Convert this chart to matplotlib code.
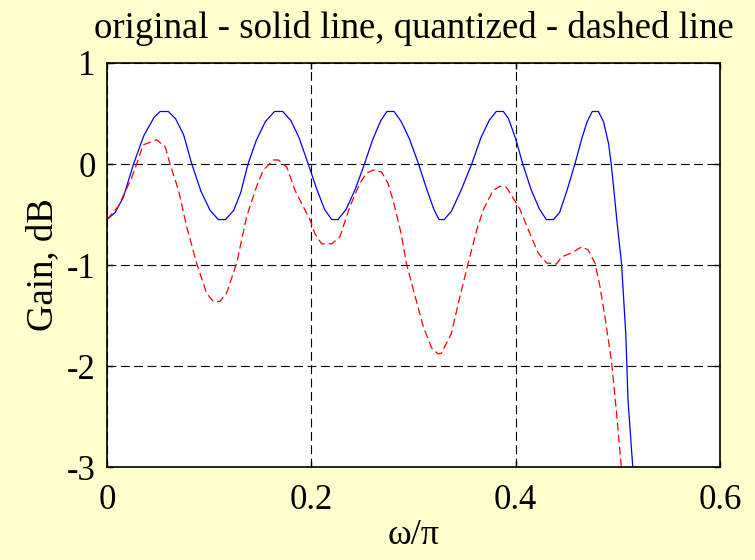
import matplotlib.pyplot as plt

# original filter response (solid, blue)
orig_w = [0.000, 0.008, 0.016, 0.026, 0.036, 0.046, 0.052, 0.060, 0.067, 0.075,
          0.083, 0.092, 0.101, 0.109, 0.116, 0.124, 0.131, 0.138, 0.146, 0.155,
          0.164, 0.172, 0.180, 0.188, 0.197, 0.205, 0.213, 0.220, 0.226, 0.234,
          0.243, 0.252, 0.260, 0.268, 0.274, 0.281, 0.288, 0.296, 0.305, 0.313,
          0.320, 0.325, 0.330, 0.337, 0.347, 0.357, 0.366, 0.374, 0.381, 0.388,
          0.393, 0.400, 0.407, 0.415, 0.423, 0.430, 0.437, 0.443, 0.450, 0.458,
          0.465, 0.470, 0.475, 0.481, 0.486, 0.491, 0.4935, 0.4955, 0.499, 0.5036,
          0.5078, 0.510, 0.515]
orig_db = [-0.55, -0.48, -0.33, 0.00, 0.28, 0.46, 0.52, 0.52, 0.45, 0.29,
           0.00, -0.27, -0.46, -0.55, -0.55, -0.46, -0.28, 0.00, 0.23, 0.42,
           0.52, 0.52, 0.43, 0.26, 0.00, -0.24, -0.45, -0.55, -0.55, -0.45,
           -0.25, 0.00, 0.24, 0.43, 0.52, 0.52, 0.42, 0.25, 0.00, -0.25,
           -0.45, -0.55, -0.55, -0.47, -0.25, 0.00, 0.26, 0.43, 0.52, 0.52,
           0.45, 0.25, 0.00, -0.25, -0.44, -0.55, -0.55, -0.48, -0.27, 0.00,
           0.26, 0.42, 0.52, 0.52, 0.42, 0.20, 0.00, -0.19, -0.55, -0.98,
           -1.68, -2.34, -3.05]

# quantized-coefficient response (dashed, red)
quant_w = [0.000, 0.011, 0.024, 0.029, 0.0355, 0.0437, 0.0486, 0.057, 0.0617, 0.070,
           0.078, 0.0877, 0.0975, 0.104, 0.1106, 0.117, 0.127, 0.1367, 0.1465, 0.153,
           0.163, 0.1676, 0.176, 0.184, 0.1905, 0.1987, 0.2035, 0.210, 0.220, 0.228,
           0.2378, 0.2476, 0.254, 0.2606, 0.2688, 0.275, 0.280, 0.288, 0.293, 0.300,
           0.3096, 0.3177, 0.324, 0.3272, 0.337, 0.3455, 0.3536, 0.362, 0.3685, 0.378,
           0.3847, 0.391, 0.396, 0.4043, 0.4124, 0.422, 0.4303, 0.440, 0.445, 0.4548,
           0.4646, 0.471, 0.4776, 0.4825, 0.4874, 0.494, 0.4988, 0.5036]
quant_db = [-0.55, -0.42, -0.14, 0.00, 0.19, 0.22, 0.24, 0.17, 0.00, -0.26,
            -0.62, -0.98, -1.28, -1.36, -1.36, -1.28, -0.98, -0.52, -0.22, -0.06,
            0.04, 0.04, -0.03, -0.26, -0.39, -0.55, -0.69, -0.79, -0.79, -0.72,
            -0.42, -0.19, -0.09, -0.06, -0.08, -0.19, -0.36, -0.69, -0.98, -1.25,
            -1.61, -1.82, -1.88, -1.875, -1.68, -1.31, -0.98, -0.65, -0.45, -0.26,
            -0.22, -0.23, -0.31, -0.45, -0.65, -0.88, -0.98, -0.99, -0.92, -0.88,
            -0.82, -0.85, -0.98, -1.21, -1.51, -1.97, -2.47, -3.02]

x_ticks = [0, 0.2, 0.4, 0.6]
x_tick_labels = ["0", "0.2", "0.4", "0.6"]
y_ticks = [-3, -2, -1, 0, 1]
y_tick_labels = ["-3", "-2", "-1", "0", "1"]

plt.rcParams["font.family"] = ["Liberation Serif", "DejaVu Serif"]

fig = plt.figure(figsize=(7.55, 5.6), dpi=100, facecolor="#FFFFCC")
ax = fig.add_axes([0.1417, 0.166, 0.8119, 0.7215])
ax.set_facecolor("white")

ax.plot(orig_w, orig_db, color="#0000FF", linewidth=0.9)
ax.plot(quant_w, quant_db, color="#FF0000", linewidth=0.9, dashes=(6.4, 3.2))

ax.set_xlim(0, 0.6)
ax.set_ylim(-3, 1)
ax.set_xticks(x_ticks)
ax.set_xticklabels(x_tick_labels)
ax.set_yticks(y_ticks)
ax.set_yticklabels(y_tick_labels)
ax.tick_params(direction="in", top=True, right=True, length=4, width=1,
               labelsize=25)
ax.tick_params(axis="x", pad=12)
ax.tick_params(axis="y", pad=8)
ax.grid(True, color="black", linestyle=(0, (8, 4)), linewidth=0.8)
for sp in ax.spines.values():
    sp.set_linewidth(1.2)

ax.set_title("original - solid line, quantized - dashed line", fontsize=26.5, pad=18)
ax.set_xlabel("ω/π", fontsize=26, labelpad=2)
ax.set_ylabel("Gain, dB", fontsize=26.5, labelpad=5)

fig.savefig("out.png", dpi=100, facecolor=fig.get_facecolor())
